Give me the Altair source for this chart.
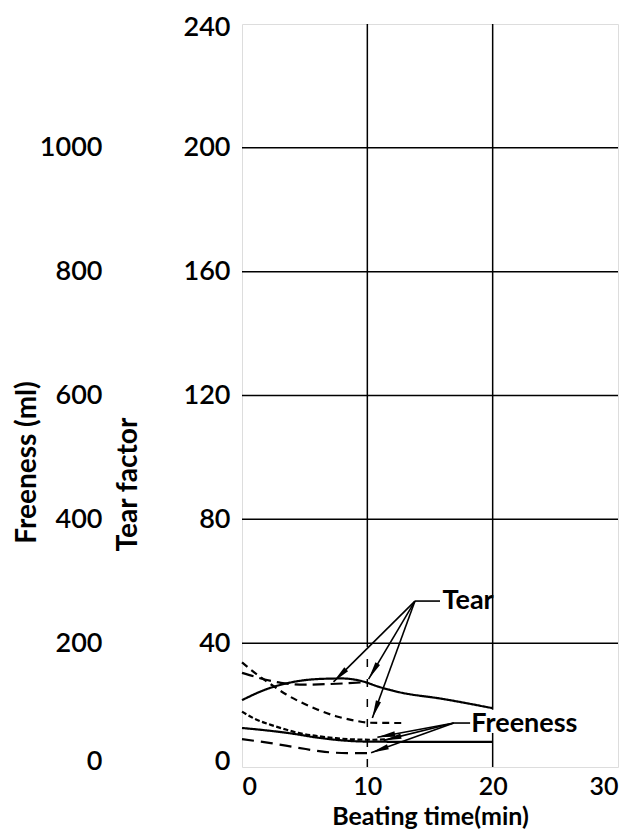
import math
import altair as alt
import pandas as pd

# ---------------- data ----------------
tear_ticks = [0, 40, 80, 120, 160, 200, 240]
freeness_ticks = [0, 200, 400, 600, 800, 1000]
time_ticks = [0, 10, 20, 30]

# Tear factor curves (tear-factor units)
tear_solid_x = [0, 2, 4, 6, 8, 9.5, 11, 12.5, 16, 20]
tear_solid_y = [21.6, 25.2, 27.4, 28.4, 28.6, 27.8, 25.8, 24.2, 22.0, 19.0]
tear_long_x = [0, 1, 2, 3.1, 5, 7, 9.5]
tear_long_y = [30.4, 29.2, 28.1, 27.2, 26.6, 26.8, 27.3]
tear_short_x = [0, 1, 2.2, 3.5, 4.5, 6, 7.5, 9, 10.2, 13]
tear_short_y = [33.8, 30.5, 27.0, 23.5, 21.3, 18.6, 16.4, 15.0, 14.3, 14.2]

# Freeness curves (plotted on the tear scale: freeness / 5)
fr_dot_x = [0, 1, 2.3, 3.5, 4.5, 6, 7.5, 9, 10.5, 11.4]
fr_dot_y = [17.9, 15.6, 13.6, 12.1, 11.0, 10.0, 9.3, 8.9, 8.8, 8.9]
fr_solid_x = [0, 2, 4, 6, 7.7, 10, 15, 20]
fr_solid_y = [12.6, 11.8, 10.8, 9.5, 8.7, 8.2, 8.1, 8.1]
fr_long_x = [0, 2.3, 4.5, 6.6, 8.4, 10.5]
fr_long_y = [9.0, 7.7, 6.2, 4.9, 4.5, 4.5]

# annotations
label_names = ["Tear", "Freeness"]
label_x = [16.0, 18.3]
label_y = [53.6, 14.0]
leader_x0 = [13.8, 16.9]
leader_x1 = [15.8, 18.2]
arrow_group = ["Tear", "Tear", "Tear", "Freeness", "Freeness", "Freeness"]
arrow_tx = [7.3, 10.1, 10.4, 10.8, 11.3, 10.3]
arrow_ty = [27.5, 28.4, 15.8, 9.6, 8.6, 4.6]

# grid lines
h_grid = [40, 80, 120, 160, 200]
v_grid_x = [10, 20, 20]
v_grid_y0 = [40, 0, 18.5]
v_grid_y1 = [240, 11, 240]
v_dash_x = [10]
v_dash_y0 = [0]
v_dash_y1 = [40]

# ---------------- frames ----------------
W, H = 376, 743
XMAX, YMAX = 30, 240

rows = []
def add(name, xs, ys):
    for i, (a, b) in enumerate(zip(xs, ys)):
        rows.append({"series": name, "x": a, "y": b, "o": i})

add("tear_solid", tear_solid_x, tear_solid_y)
add("tear_long", tear_long_x, tear_long_y)
add("tear_short", tear_short_x, tear_short_y)
add("fr_dot", fr_dot_x, fr_dot_y)
add("fr_solid", fr_solid_x, fr_solid_y)
add("fr_long", fr_long_x, fr_long_y)
curves = pd.DataFrame(rows)

series_dom = ["tear_solid", "tear_long", "tear_short", "fr_dot", "fr_solid", "fr_long"]
dash_rng = [[1, 0], [12, 6], [7, 5], [5, 2.5], [1, 0], [12, 7]]
width_rng = [2.2, 2.2, 2.2, 3.4, 2.2, 2.2]

origin = {"Tear": (leader_x0[0], label_y[0]), "Freeness": (leader_x0[1], 14.2)}
arr_rows = []
for g, tx, ty in zip(arrow_group, arrow_tx, arrow_ty):
    ox, oy = origin[g]
    dx = (tx - ox) * W / XMAX
    dy = -(ty - oy) * H / YMAX
    ang = math.degrees(math.atan2(dx, -dy)) % 360
    arr_rows.append({"ox": ox, "oy": oy, "tx": tx, "ty": ty, "angle": ang})
arrows = pd.DataFrame(arr_rows)

labels = pd.DataFrame({"label": label_names, "x": label_x, "y": label_y})
leaders = pd.DataFrame({"x0": leader_x0, "x1": leader_x1,
                        "y": [label_y[0], 14.2]})

hgrid = pd.DataFrame({"y": h_grid, "x0": [0] * len(h_grid), "x1": [XMAX] * len(h_grid)})
vgrid = pd.DataFrame({"x": v_grid_x, "y0": v_grid_y0, "y1": v_grid_y1})
vdash = pd.DataFrame({"x": v_dash_x, "y0": v_dash_y0, "y1": v_dash_y1})
faxis = pd.DataFrame({"f": freeness_ticks, "x": [0] * len(freeness_ticks)})

FONT = "Lato"
LW = 600
xs = alt.Scale(domain=[0, XMAX], nice=False, zero=False)
ys = alt.Scale(domain=[0, YMAX], nice=False, zero=False)

zero_up = {"condition": [{"test": "datum.value === 0", "value": -6},
                         {"test": "datum.value === 240", "value": 3}],
           "value": 0}

x_axis = alt.Axis(values=time_ticks, title="Beating time(min)", grid=False,
                  domain=False, ticks=False, labelPadding=7, labelFontSize=25,
                  labelFont=FONT, labelFontWeight=LW, labelColor="black", titleFont=FONT,
                  titleFontSize=25, titleFontWeight="bold", titleColor="black",
                  titleX=W / 2, titleY=49, titleBaseline="middle")
y_axis = alt.Axis(values=tear_ticks, title="Tear factor", grid=False,
                  domain=False, ticks=False, labelPadding=12, labelFontSize=27,
                  labelFont=FONT, labelFontWeight=LW, labelColor="black", titleFont=FONT,
                  titleFontSize=28, titleFontWeight="bold", titleColor="black",
                  titleX=-113.5, titleY=460, titleBaseline="middle",
                  titleAlign="center", titleAngle=270, labelOffset=zero_up)

X = lambda f, **k: alt.X(f, type="quantitative", scale=xs, **k)
Y = lambda f, **k: alt.Y(f, type="quantitative", scale=ys, **k)

base_axes = alt.Chart(hgrid).mark_rule(color="black", strokeWidth=1.5).encode(
    x=X("x0", axis=x_axis), x2="x1", y=Y("y", axis=y_axis))

vg = alt.Chart(vgrid).mark_rule(color="black", strokeWidth=1.5).encode(
    x=X("x"), y=Y("y0"), y2="y1")
vd = alt.Chart(vdash).mark_rule(color="black", strokeWidth=1.5,
                                strokeDash=[8, 12]).encode(
    x=X("x"), y=Y("y0"), y2="y1")

lines = alt.Chart(curves).mark_line(color="black", interpolate="monotone").encode(
    x=X("x"), y=Y("y"), detail="series:N", order="o:Q",
    strokeDash=alt.StrokeDash("series:N", scale=alt.Scale(domain=series_dom, range=dash_rng), legend=None),
    strokeWidth=alt.StrokeWidth("series:N", scale=alt.Scale(domain=series_dom, range=width_rng), legend=None),
)

shafts = alt.Chart(arrows).mark_rule(color="black", strokeWidth=1.6).encode(
    x=X("ox"), y=Y("oy"), x2="tx", y2="ty")
heads = alt.Chart(arrows).mark_point(
    shape="M0,0L0.3,2L-0.3,2Z", filled=True, color="black", opacity=1, size=320
).encode(x=X("tx"), y=Y("ty"), angle=alt.Angle("angle:Q", scale=None))

lead = alt.Chart(leaders).mark_rule(color="black", strokeWidth=1.6).encode(
    x=X("x0"), x2="x1", y=Y("y"))
txt = alt.Chart(labels).mark_text(align="left", baseline="middle", font=FONT,
                                  fontSize=27, fontWeight="bold", color="black").encode(
    x=X("x"), y=Y("y"), text="label:N")

fr_axis = alt.Axis(values=freeness_ticks, title="Freeness (ml)", grid=False, format="d",
                   domain=False, ticks=False, labelPadding=140, labelFontSize=27,
                   labelFont=FONT, labelFontWeight=LW, labelColor="black", titleFont=FONT,
                   titleFontSize=28, titleFontWeight="bold", titleColor="black",
                   titleX=-215, titleY=438, titleBaseline="middle",
                   titleAlign="center", titleAngle=270, orient="left",
                   labelOffset=zero_up)
fr_layer = alt.Chart(faxis).mark_point(opacity=0).encode(
    x=X("x"),
    y=alt.Y("f:Q", scale=alt.Scale(domain=[0, 1200], nice=False, zero=False), axis=fr_axis))

tear_part = alt.layer(base_axes, vg, vd, lines, shafts, heads, lead, txt)

chart = alt.layer(tear_part, fr_layer).resolve_scale(y="independent").properties(
    width=W, height=H,
    autosize=alt.AutoSizeParams(type="none"),
    padding={"left": 234, "top": 16, "right": 6, "bottom": 62},
).configure_view(stroke="black", strokeWidth=2.5).configure(background="white")

chart.save("out.html", embed_options={"renderer": "svg", "actions": False})
